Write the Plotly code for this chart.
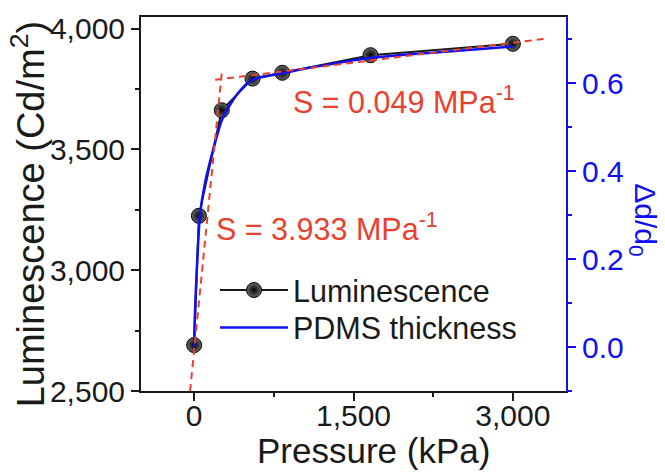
import plotly.graph_objects as go

# ---------------- data ----------------
pressure = [0, 45, 260, 550, 830, 1660, 3000]
luminescence = [2690, 3225, 3662, 3793, 3817, 3890, 3937]

pdms_pressure = [0, 5, 20, 55, 100, 170, 260, 350, 460, 555, 830, 1100, 1650, 2300, 3000]
pdms_thickness = [0.0, 0.06, 0.15, 0.30, 0.37, 0.44, 0.515, 0.555, 0.59, 0.608, 0.622, 0.635, 0.657, 0.67, 0.683]

fit_low_x = [-38, 263]
fit_low_y = [2500, 3829]
fit_high_x = [198, 3321]
fit_high_y = [3788, 3959]

x_ticks = [0, 1500, 3000]
left_ticks = [2500, 3000, 3500, 4000]
right_ticks = [0.0, 0.2, 0.4, 0.6]

FONT = "Liberation Sans, Arial, sans-serif"
RED = "#E8412F"
BLUE = "#1010F0"
INK = "#1a1a1a"

LUM_RANGE = [2500, 4048]

# plot area in pixels
L, R, T, B = 141, 566, 12, 391
W, H = 665, 473

def px(xp):
    return (xp - L) / (R - L)

def py(yp):
    return (B - yp) / (B - T)

fig = go.Figure()

# luminescence (base layer, left axis)
fig.add_trace(go.Scatter(
    x=pressure, y=luminescence, name="Luminescence",
    mode="lines+markers",
    line=dict(color=INK, width=2),
    marker=dict(size=15, color="#6a6a6a", symbol="circle",
                gradient=dict(type="radial", color="#000000"),
                line=dict(color="#000000", width=1)),
    xaxis="x", yaxis="y", legend="legend",
))

# blue PDMS curve (right axis, drawn above)
fig.add_trace(go.Scatter(
    x=pdms_pressure, y=pdms_thickness, name="PDMS thickness",
    mode="lines", line=dict(color=BLUE, width=2.5, shape="spline", smoothing=0.6),
    xaxis="x", yaxis="y2", legend="legend2",
))

# red dashed fits (top layer, same scale as left axis)
for fx, fy in [(fit_low_x, fit_low_y), (fit_high_x, fit_high_y)]:
    fig.add_trace(go.Scatter(
        x=fx, y=fy, mode="lines", showlegend=False, hoverinfo="skip",
        line=dict(color=RED, width=2, dash="7px,5px"),
        xaxis="x", yaxis="y3",
    ))

tickfont = dict(family=FONT, size=30, color=INK)
legend_common = dict(
    xanchor="left", yanchor="top",
    bgcolor="rgba(0,0,0,0)", borderwidth=0,
    font=dict(family=FONT, size=30.5, color=INK),
    itemwidth=68, tracegroupgap=0,
)

fig.update_layout(
    width=W, height=H,
    margin=dict(l=L, r=W - R, t=T, b=H - B, pad=0),
    paper_bgcolor="white", plot_bgcolor="white",
    showlegend=True,
    legend=dict(x=px(215), y=py(262), **legend_common),
    legend2=dict(x=px(215), y=py(300), **legend_common),
    xaxis=dict(
        range=[-500, 3500], tickvals=x_ticks, tickformat=",d",
        ticks="outside", ticklen=8, tickwidth=2, tickcolor=INK,
        showline=True, linecolor=INK, linewidth=2, mirror=True,
        showgrid=False, zeroline=False, tickfont=tickfont,
        ticklabelstandoff=-11,
        minor=dict(tick0=0, dtick=750, ticks="outside", ticklen=4, tickwidth=2, tickcolor=INK),
    ),
    yaxis=dict(
        range=LUM_RANGE, tickvals=left_ticks, tickformat=",d",
        side="left", anchor="x",
        ticks="outside", ticklen=8, tickwidth=2, tickcolor=INK,
        showline=True, linecolor=INK, linewidth=2,
        showgrid=False, zeroline=False, tickfont=tickfont,
        minor=dict(tick0=2500, dtick=250, ticks="outside", ticklen=4, tickwidth=2, tickcolor=INK),
    ),
    yaxis2=dict(
        range=[-0.1, 0.75], tickvals=right_ticks, tickformat=".1f",
        side="right", overlaying="y", anchor="x",
        ticks="outside", ticklen=8, tickwidth=2, tickcolor=BLUE,
        showline=True, linecolor=BLUE, linewidth=2,
        showgrid=False, zeroline=False,
        tickfont=dict(family=FONT, size=30, color=BLUE),
        minor=dict(tick0=0, dtick=0.1, ticks="outside", ticklen=4, tickwidth=2, tickcolor=BLUE),
    ),
    yaxis3=dict(
        range=LUM_RANGE, overlaying="y", anchor="x", visible=False,
        showgrid=False, zeroline=False,
    ),
    annotations=[
        dict(text="Pressure (kPa)", xref="paper", yref="paper",
             x=px(373), y=py(451), xanchor="center", yanchor="middle",
             showarrow=False, font=dict(family=FONT, size=35, color=INK)),
        dict(text="Luminescence (Cd/m<sup>2</sup>)", xref="paper", yref="paper",
             x=px(28), y=py(212), xanchor="center", yanchor="middle", textangle=-90,
             showarrow=False, font=dict(family=FONT, size=38, color=INK)),
        dict(text="Δd/d<sub>0</sub>", xref="paper", yref="paper",
             x=px(644), y=py(217), xanchor="center", yanchor="middle", textangle=90,
             showarrow=False, font=dict(family=FONT, size=30, color=BLUE)),
        dict(text="S = 0.049 MPa<sup>-1</sup>", xref="paper", yref="paper",
             x=px(291), y=py(96), xanchor="left", yanchor="middle",
             showarrow=False, font=dict(family=FONT, size=30.5, color=RED)),
        dict(text="S = 3.933 MPa<sup>-1</sup>", xref="paper", yref="paper",
             x=px(214), y=py(225), xanchor="left", yanchor="middle",
             showarrow=False, font=dict(family=FONT, size=30.5, color=RED)),
    ],
)

fig.write_html("out.html")
